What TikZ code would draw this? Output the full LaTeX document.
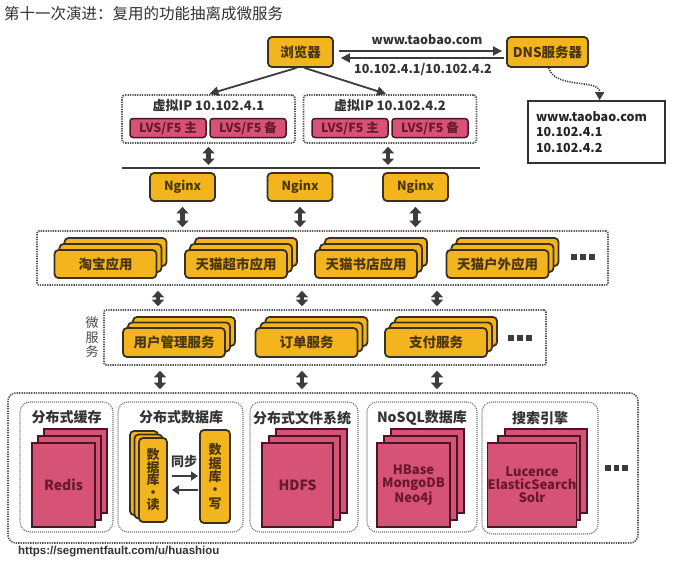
\documentclass[tikz,border=0pt]{standalone}
\usepackage{fontspec}
\setmainfont{Noto Sans CJK SC}
\newfontfamily\urlfont{Liberation Sans}
\usetikzlibrary{arrows.meta}
\definecolor{ylw}{HTML}{F2B51E}
\definecolor{ylwd}{HTML}{3B3020}
\definecolor{ylwt}{HTML}{4A3510}
\definecolor{mag}{HTML}{D65276}
\definecolor{magd}{HTML}{4A1525}
\definecolor{magt}{HTML}{6A1830}
\definecolor{dotc}{HTML}{555555}
\definecolor{arr}{HTML}{3C3C3C}
\definecolor{txt}{HTML}{333333}
\newcommand\fs[1]{\fontsize{#1}{#1}\selectfont}
% name, style, cx, cy, w, h, dx, dy, text
\newcommand\stackbox[9]{%
  \node[#2,minimum width=#5pt,minimum height=#6pt] (#1b2) at ({#3+2*(#7)},{#4+2*(#8)}) {};
  \node[#2,minimum width=#5pt,minimum height=#6pt] (#1b1) at ({#3+#7},{#4+#8}) {};
  \node[#2,minimum width=#5pt,minimum height=#6pt] (#1) at (#3,#4) {#9};
}
\begin{document}
\begin{tikzpicture}[x=1pt,y=-1pt,
  ybox/.style={draw=ylwd, fill=ylw, line width=1.8pt, rounded corners=4pt, inner sep=0pt, text=ylwt, font=\bfseries\fs{13.5}},
  mbox/.style={draw=magd, fill=mag, line width=1.7pt, inner sep=0pt, text=magt, font=\bfseries\fs{13}, align=center},
  lvsbox/.style={draw=magd, fill=mag, line width=1.5pt, rounded corners=3pt, inner sep=0pt, text=magt, font=\bfseries\fs{12.5}, minimum width=76pt, minimum height=19pt},
  dotbox/.style={draw=dotc, line width=1.7pt, dash pattern=on 1.3pt off 1.1pt, inner sep=0pt},
  grpbox/.style={draw=dotc!85, line width=1.1pt, dash pattern=on 1pt off 1pt, rounded corners=10pt, inner sep=0pt},
  gtitle/.style={text=txt, font=\bfseries\fs{14}, inner sep=0pt},
  lbl/.style={text=txt, font=\bfseries\fs{12.5}, inner sep=0pt},
  dbl/.style={draw=arr, line width=4.4pt, {Triangle[width=12pt,length=6.5pt]}-{Triangle[width=12pt,length=6.5pt]}},
  thin/.style={draw=arr, line width=1.8pt, -{Triangle[width=9pt,length=9pt]}},
  dotsq/.style={fill=arr, minimum size=5.5pt, inner sep=0pt},
]
\fill[white] (0,0) rectangle (693,568);
\useasboundingbox (0,0) rectangle (693,568);

% title
\node[anchor=west, inner sep=0pt, text=txt, font=\fs{15.5}] (title) at (4,14) {第十一次演进：复用的功能抽离成微服务};

% browser and DNS
\node[ybox, minimum width=65pt, minimum height=30pt] (browser) at (300.5,52) {浏览器};
\node[ybox, minimum width=81pt, minimum height=30pt] (dns) at (547.5,52) {DNS服务器};
\draw[thin, shorten <=5pt, shorten >=4pt] ([yshift=1pt]browser.east) -- ([yshift=1pt]dns.west);
\draw[thin, shorten <=2pt, shorten >=7pt] ([yshift=-6pt]dns.west) -- ([yshift=-6pt]browser.east);
\node[lbl] (l1) at (427,40) {www.taobao.com};
\node[lbl] (l2) at (423,70) {10.102.4.1/10.102.4.2};

% DNS result
\node[draw=txt, line width=1.7pt, minimum width=137pt, minimum height=62pt, text width=121pt, inner xsep=8pt, inner ysep=0pt, align=left, text=black!85, font=\bfseries\fontsize{12.5}{15.5}\selectfont] (res) at (596.5,132) {www.taobao.com\\10.102.4.1\\10.102.4.2};
\draw[draw=arr, line width=1.6pt, dash pattern=on 1.2pt off 1.2pt, -{Triangle[width=9pt,length=8pt]}] ([xshift=1pt]dns.south) .. controls (556,90) and (600,78) .. ([xshift=3pt]res.north);

% virtual IP boxes
\node[dotbox, rounded corners=3pt, minimum width=173pt, minimum height=48pt] (vip1) at (208.5,119) {};
\node[dotbox, rounded corners=3pt, minimum width=173pt, minimum height=48pt] (vip2) at (390,119) {};
\node[lbl, font=\bfseries\fs{13}] (vip1t) at (208.5,106) {虚拟IP 10.102.4.1};
\node[lbl, font=\bfseries\fs{13}] (vip2t) at (390,106) {虚拟IP 10.102.4.2};
\node[lvsbox] (lvs1a) at (168,128) {LVS/F5 主};
\node[lvsbox] (lvs1b) at (248,128) {LVS/F5 备};
\node[lvsbox] (lvs2a) at (350,128) {LVS/F5 主};
\node[lvsbox] (lvs2b) at (430,128) {LVS/F5 备};
\draw[thin, shorten >=1pt] ([xshift=-4pt]browser.south) -- (vip1.north);
\draw[thin, shorten >=1pt] ([xshift=4pt]browser.south) -- ([xshift=-3pt]vip2.north);

% line and nginx
\coordinate (ln1) at (122,168);
\coordinate (ln2) at (480,168);
\draw[draw=arr, line width=1.8pt] (ln1) -- (ln2);
\draw[dbl, shorten <=3pt, shorten >=3pt] (vip1.south) -- (vip1.south |- ln1);
\draw[dbl, shorten <=3pt, shorten >=3pt] ([xshift=-2pt]vip2.south) -- ([xshift=-2pt]vip2.south |- ln1);
\node[ybox, minimum width=65pt, minimum height=28pt, font=\bfseries\fs{12.5}] (ng1) at (182.5,187) {Nginx};
\node[ybox, minimum width=65pt, minimum height=28pt, font=\bfseries\fs{12.5}] (ng2) at (300,187) {Nginx};
\node[ybox, minimum width=65pt, minimum height=28pt, font=\bfseries\fs{12.5}] (ng3) at (415.5,187) {Nginx};

% apps
\node[dotbox, rounded corners=2pt, minimum width=571pt, minimum height=54pt] (appc) at (322.5,258) {};
\draw[dbl, shorten <=5pt, shorten >=3pt] (ng1.south) -- (ng1.south |- appc.north);
\draw[dbl, shorten <=5pt, shorten >=3pt] (ng2.south) -- (ng2.south |- appc.north);
\draw[dbl, shorten <=5pt, shorten >=3pt] (ng3.south) -- (ng3.south |- appc.north);
\stackbox{app1}{ybox}{105.5}{264}{102}{28}{5}{-6}{淘宝应用}
\stackbox{app2}{ybox}{236}{264}{102}{28}{5}{-6}{天猫超市应用}
\stackbox{app3}{ybox}{366}{264}{102}{28}{5}{-6}{天猫书店应用}
\stackbox{app4}{ybox}{497.5}{264}{102}{28}{5}{-6}{天猫户外应用}
\node[dotsq] (ad1) at (574,257) {};
\node[dotsq] (ad2) at (583,257) {};
\node[dotsq] (ad3) at (592,257) {};

% services
\node[dotbox, rounded corners=2pt, minimum width=442pt, minimum height=55pt] (svc) at (325,337.5) {};
\node[align=center, inner sep=0pt, text=txt!90, font=\fontsize{13}{14.5}\selectfont] (svct) at (92,337.5) {微\\服\\务};
\draw[dbl, shorten <=5pt, shorten >=3pt] (158,0 |- appc.south) -- (158,0 |- svc.north);
\draw[dbl, shorten <=5pt, shorten >=3pt] (302,0 |- appc.south) -- (302,0 |- svc.north);
\draw[dbl, shorten <=5pt, shorten >=3pt] (437,0 |- appc.south) -- (437,0 |- svc.north);
\stackbox{sv1}{ybox}{174}{342.5}{102}{29}{5}{-5.5}{用户管理服务}
\stackbox{sv2}{ybox}{306.5}{342.5}{102}{29}{5}{-5.5}{订单服务}
\stackbox{sv3}{ybox}{436}{342.5}{102}{29}{5}{-5.5}{支付服务}
\node[dotsq] (sd1) at (511,338) {};
\node[dotsq] (sd2) at (520,338) {};
\node[dotsq] (sd3) at (529,338) {};

% storage
\node[dotbox, rounded corners=8pt, minimum width=630pt, minimum height=150pt] (store) at (323,468) {};
\draw[dbl, shorten <=5pt, shorten >=3pt] (160,0 |- svc.south) -- (160,0 |- store.north);
\draw[dbl, shorten <=5pt, shorten >=3pt] (302,0 |- svc.south) -- (302,0 |- store.north);
\draw[dbl, shorten <=5pt, shorten >=3pt] (437,0 |- svc.south) -- (437,0 |- store.north);

\node[grpbox, minimum width=93pt, minimum height=130pt] (g1) at (66.5,467) {};
\node[grpbox, minimum width=125pt, minimum height=130pt] (g2) at (180.5,467) {};
\node[grpbox, minimum width=108pt, minimum height=130pt] (g3) at (304,467) {};
\node[grpbox, minimum width=110pt, minimum height=130pt] (g4) at (422,467) {};
\node[grpbox, minimum width=116pt, minimum height=132pt] (g5) at (540,468) {};
\node[gtitle] (g1t) at (66.5,417) {分布式缓存};
\node[gtitle] (g2t) at (181,417) {分布式数据库};
\node[gtitle] (g3t) at (302,418) {分布式文件系统};
\node[gtitle] (g4t) at (422,418) {NoSQL数据库};
\node[gtitle] (g5t) at (540,418) {搜索引擎};

\stackbox{redis}{mbox}{63.5}{485}{63}{84}{6}{-7}{\fs{14}Redis}
\stackbox{hdfs}{mbox}{297.5}{485}{71}{84}{7}{-7}{\fs{14}HDFS}
\stackbox{nosql}{mbox}{413.5}{485}{73}{84}{7}{-7}{\fontsize{13}{13.5}\selectfont HBase\\MongoDB\\Neo4j}
\stackbox{search}{mbox}{532}{485}{82}{84}{7}{-7}{\fontsize{13}{13.5}\selectfont Lucence\\ElasticSearch\\Solr}

\stackbox{dbr}{ybox}{153}{480}{28}{84}{-4.5}{-3.5}{}
\node[align=center, inner sep=0pt, text=ylwt, font=\bfseries\fontsize{13}{12.5}\selectfont] (dbrt) at (dbr) {数\\据\\库\\·\\读};
\node[ybox, minimum width=30pt, minimum height=93pt, align=center, font=\bfseries\fontsize{13}{13.3}\selectfont] (dbw) at (215,476.5) {数\\据\\库\\·\\写};
\node[gtitle, font=\bfseries\fs{13}] (sync) at (184,462) {同步};
\coordinate (s1a) at (172,476);
\coordinate (s1b) at (198,476);
\coordinate (s2a) at (198,490);
\coordinate (s2b) at (172,490);
\draw[draw=arr, line width=2.6pt, -{Triangle[width=9pt,length=7pt]}] (s1a) -- (s1b);
\draw[draw=arr, line width=2.6pt, -{Triangle[width=9pt,length=7pt]}] (s2a) -- (s2b);

\node[dotsq] (bd1) at (608,468) {};
\node[dotsq] (bd2) at (616.5,468) {};
\node[dotsq] (bd3) at (625,468) {};

\node[anchor=west, inner sep=0pt, text=txt, font=\urlfont\bfseries\fs{11.5}] (url) at (18,552) {https://segmentfault.com/u/huashiou};
\end{tikzpicture}
\end{document}
